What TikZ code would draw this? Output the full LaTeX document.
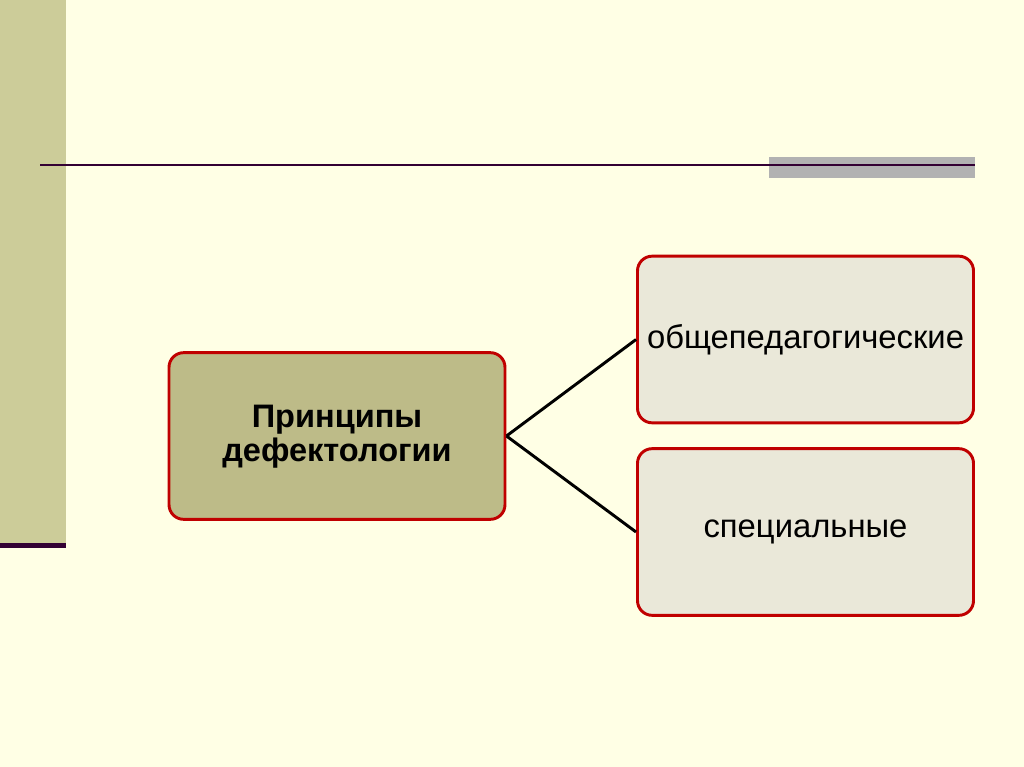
\documentclass[tikz,border=0pt]{standalone}
\usepackage{fontspec}
\setmainfont{Liberation Sans}
\definecolor{bgc}{HTML}{FFFFE5}
\definecolor{barc}{HTML}{CCCC99}
\definecolor{linec}{HTML}{330033}
\definecolor{grayc}{HTML}{B2B2B2}
\definecolor{mainf}{HTML}{BDBB88}
\definecolor{subf}{HTML}{EAE8D9}
\definecolor{redb}{HTML}{C00000}
\begin{document}
\begin{tikzpicture}[x=0.75pt,y=-0.75pt,
  box/.style={draw=redb,line width=2.2pt,rounded corners=11pt,minimum width=252pt,minimum height=125pt,align=center,inner sep=0pt},
  conn/.style={draw=black,line width=2.2pt}]
\fill[bgc] (0,0) rectangle (1024,767);
\useasboundingbox (0,0) rectangle (1024,767);
\fill[barc] (0,0) rectangle (66,543);
\fill[linec] (0,543) rectangle (66,548);
\fill[grayc] (769,157) rectangle (975,178);
\draw[linec,line width=1.7pt] (40,165) -- (975,165);
\node[box,fill=mainf,font=\fontsize{24.4}{26}\selectfont\bfseries,text depth=4pt] (main) at (337,436) {Принципы\\дефектологии};
\node[box,fill=subf,font=\fontsize{24.6}{28}\selectfont] (gen) at (805.5,339.5) {общепедагогические};
\node[box,fill=subf,font=\fontsize{24.6}{28}\selectfont] (spec) at (805.5,532) {специальные};
\draw[conn] (main.east) -- (gen.west);
\draw[conn] (main.east) -- (spec.west);
\end{tikzpicture}
\end{document}
